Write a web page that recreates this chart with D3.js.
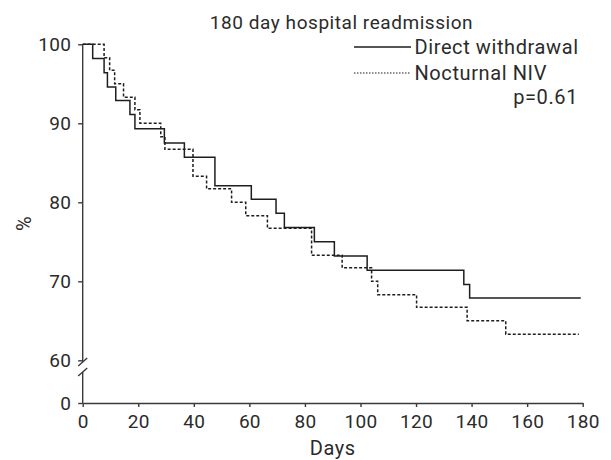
<!DOCTYPE html>
<html lang="en">
<head>
    <meta charset="UTF-8"/>
    <title>180 day hospital readmission</title>
    <script src="https://d3js.org/d3.v7.min.js"></script>
    <style>
        body, html {
            margin: 0;
            padding: 0;
            background: #fff;
        }
        svg text {
            font-family: Roboto, "Open Sans", sans-serif;
            fill: #2b2b2b;
        }
    </style>
</head>
<body>
<svg id="chart" width="611" height="460"></svg>
<script>
    // Kaplan-Meier steps
    const directDays = [0, 3.6, 7.7, 8.9, 11.9, 17.0, 18.8, 29.4, 36.6, 47.6, 60.7, 69.6, 72.6, 83.4, 90.6, 102.4, 137.2, 139.3, 179.3];
    const directPct = [100, 98.2, 96.4, 94.6, 92.9, 91.1, 89.3, 87.5, 85.7, 82.1, 80.4, 78.6, 76.8, 75.0, 73.2, 71.4, 69.6, 67.9, 67.9];

    const nivDays = [0, 7.7, 9.7, 11.5, 14.7, 18.8, 20.6, 28.1, 29.6, 39.7, 44.6, 53.6, 58.7, 66.5, 82.4, 93.4, 104.0, 106.2, 120.2, 138.4, 152.3, 178.6];
    const nivPct = [100, 98.3, 96.7, 95.0, 93.3, 91.7, 90.0, 88.3, 86.7, 83.3, 81.7, 80.0, 78.3, 76.7, 73.3, 71.7, 70.0, 68.3, 66.7, 65.0, 63.3, 63.3];

    const xTicks = [0, 20, 40, 60, 80, 100, 120, 140, 160, 180];
    const yTicks = [0, 60, 70, 80, 90, 100];

    const seriesNames = ["Direct withdrawal", "Nocturnal NIV"];
    const title = "180 day hospital readmission";
    const pLabel = "p=0.61";

    const svg = d3.select("#chart");
    const fontSize = 19;
    const axisColor = "#3a3a3a";

    const x = d3.scaleLinear().domain([0, 180]).range([82.7, 582.7]);
    // broken axis: 0..60 squeezed into a short stub
    const y = d3.scaleLinear().domain([0, 60, 100]).range([403, 360.3, 44.3]);

    // x axis
    const gx = svg.append("g")
        .attr("transform", `translate(0,${y(0)})`)
        .call(d3.axisBottom(x).tickValues(xTicks).tickSize(4).tickPadding(8).tickSizeOuter(0));
    gx.select(".domain").attr("stroke", axisColor).attr("stroke-width", 1.4);
    gx.selectAll(".tick line").attr("stroke", axisColor).attr("stroke-width", 1.4);
    gx.selectAll(".tick text").attr("font-size", fontSize).attr("fill", "#2b2b2b")
        .attr("letter-spacing", 0.3);

    // y axis
    const gy = svg.append("g")
        .attr("transform", `translate(${x(0)},0)`)
        .call(d3.axisLeft(y).tickValues(yTicks).tickSize(4.5).tickPadding(7));
    gy.select(".domain").remove();
    gy.selectAll(".tick line").attr("stroke", axisColor).attr("stroke-width", 1.4);
    gy.selectAll(".tick text").attr("font-size", fontSize).attr("fill", "#2b2b2b")
        .attr("letter-spacing", 0.3);

    // y axis line with break marks
    const brk1 = y(60) + 1.7, brk2 = y(60) + 11.7;
    svg.append("line")
        .attr("x1", x(0)).attr("x2", x(0))
        .attr("y1", y(100)).attr("y2", brk1)
        .attr("stroke", axisColor).attr("stroke-width", 1.4);
    svg.append("line")
        .attr("x1", x(0)).attr("x2", x(0))
        .attr("y1", brk2).attr("y2", y(0))
        .attr("stroke", axisColor).attr("stroke-width", 1.4);
    [brk1, brk2].forEach(b => {
        svg.append("line")
            .attr("x1", x(0) - 4.5).attr("y1", b + 4)
            .attr("x2", x(0) + 4.5).attr("y2", b - 4)
            .attr("stroke", axisColor).attr("stroke-width", 1.4);
    });

    // curves
    const line = d3.line()
        .x(d => x(d[0]))
        .y(d => y(d[1]))
        .curve(d3.curveStepAfter);

    svg.append("path")
        .datum(directDays.map((d, i) => [d, directPct[i]]))
        .attr("fill", "none")
        .attr("stroke", "#1e1e1e")
        .attr("stroke-width", 1.5)
        .attr("d", line);

    svg.append("path")
        .datum(nivDays.map((d, i) => [d, nivPct[i]]))
        .attr("fill", "none")
        .attr("stroke", "#1e1e1e")
        .attr("stroke-width", 1.5)
        .attr("stroke-dasharray", "3,2")
        .attr("d", line);

    // axis titles
    svg.append("text")
        .attr("x", (x(0) + x(180)) / 2)
        .attr("y", 455)
        .attr("text-anchor", "middle")
        .attr("font-size", 20)
        .attr("letter-spacing", 0.5)
        .text("Days");

    svg.append("text")
        .attr("transform", `translate(31,${(y(0) + y(100)) / 2}) rotate(-90)`)
        .attr("text-anchor", "middle")
        .attr("font-size", 20)
        .text("%");

    // title and legend
    svg.append("text")
        .attr("x", 341.5)
        .attr("y", 29)
        .attr("text-anchor", "middle")
        .attr("font-size", fontSize)
        .attr("letter-spacing", 0.55)
        .text(title);

    const legend = svg.append("g");
    seriesNames.forEach((name, i) => {
        const ly = 47 + i * 26;
        legend.append("line")
            .attr("x1", 354).attr("x2", 411)
            .attr("y1", ly).attr("y2", ly)
            .attr("stroke", "#1e1e1e")
            .attr("stroke-width", i === 0 ? 1.4 : 1.1)
            .attr("stroke-dasharray", i === 0 ? null : "1.5,1.5");
        legend.append("text")
            .attr("x", 414.5)
            .attr("y", ly + 7)
            .attr("font-size", 20)
            .attr("letter-spacing", 0.6)
            .text(name);
    });

    svg.append("text")
        .attr("x", 578)
        .attr("y", 104)
        .attr("text-anchor", "end")
        .attr("font-size", 20)
        .attr("letter-spacing", 0.6)
        .text(pLabel);
</script>
</body>
</html>
